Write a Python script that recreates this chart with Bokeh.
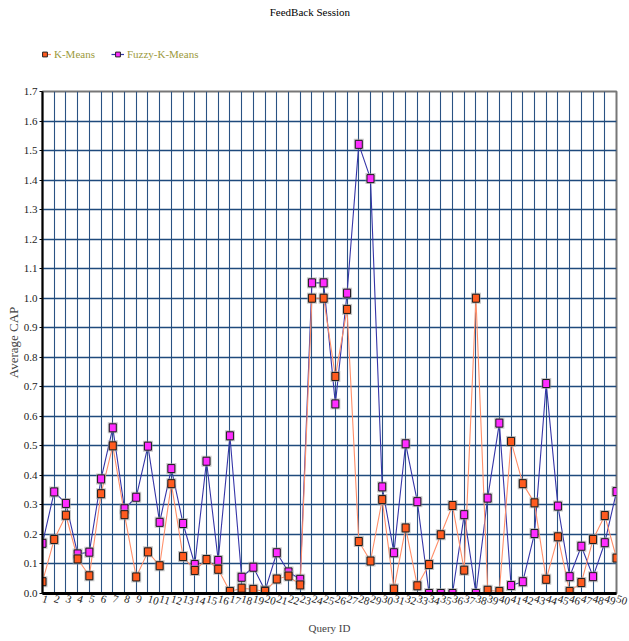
from bokeh.plotting import figure
from bokeh.layouts import column
from bokeh.models import Range1d, FixedTicker, Legend, LegendItem, CustomJSTickFormatter
from bokeh.core.properties import value
from bokeh.embed import file_html
from bokeh.resources import INLINE

query_ids = list(range(1, 51))
kmeans = [0.04, 0.183, 0.265, 0.117, 0.06, 0.338, 0.50, 0.267, 0.056, 0.141,
          0.094, 0.372, 0.125, 0.078, 0.115, 0.082, 0.007, 0.018, 0.014, 0.007,
          0.049, 0.059, 0.029, 1.0, 1.0, 0.735, 0.962, 0.176, 0.11, 0.318,
          0.015, 0.222, 0.026, 0.098, 0.199, 0.298, 0.079, 1.0, 0.011, 0.007,
          0.515, 0.372, 0.307, 0.048, 0.192, 0.007, 0.037, 0.183, 0.264, 0.12]
fuzzy = [0.17, 0.344, 0.305, 0.134, 0.14, 0.388, 0.561, 0.287, 0.326, 0.499,
         0.241, 0.423, 0.237, 0.098, 0.448, 0.112, 0.534, 0.055, 0.089, 0.01,
         0.138, 0.073, 0.048, 1.052, 1.052, 0.642, 1.017, 1.521, 1.405, 0.361,
         0.138, 0.507, 0.311, 0.0, 0.0, 0.0, 0.267, 0.0, 0.323, 0.577,
         0.027, 0.04, 0.203, 0.711, 0.296, 0.057, 0.16, 0.057, 0.172, 0.345]
y_ticks = [round(i * 0.1, 1) for i in range(18)]
title_text = "FeedBack Session"
series_names = ["K-Means", "Fuzzy-K-Means"]

FONT = "Liberation Serif"
K_LINE, K_FILL = "#ff8f6a", "#ff5b1f"
F_LINE, F_FILL = "#3535a8", "#ff2dff"
W = 629
TOP_H = 80
MAIN_H = 641 - TOP_H

# ---------- header (title + legend) ----------
head = figure(width=W, height=TOP_H, output_backend="svg", toolbar_location=None,
              x_range=Range1d(0, W), y_range=Range1d(TOP_H, 0),
              x_axis_location=None, y_axis_location=None,
              min_border=0, outline_line_color=None)
head.grid.visible = False
head.text(x=[293], y=[11], text=[title_text], text_font=value(FONT),
          text_font_size="11px", text_align="center", text_baseline="middle",
          text_color="#000000")
off = [-100, -90]
hk_l = head.line(off, off, line_color=K_LINE, line_width=1.2)
hk_m = head.scatter(off, off, marker="square", size=8, fill_color=K_FILL,
                    line_color="#222222")
hf_l = head.line(off, off, line_color=F_LINE, line_width=1.2)
hf_m = head.scatter(off, off, marker="square", size=8, fill_color=F_FILL,
                    line_color="#222222")
legend = Legend(items=[LegendItem(label=series_names[0], renderers=[hk_l, hk_m]),
                       LegendItem(label=series_names[1], renderers=[hf_l, hf_m])],
                orientation="horizontal", location=(-4, 20),
                label_text_font=FONT, label_text_font_size="11px",
                label_text_color="#9c9a3c", border_line_color=None,
                background_fill_alpha=0, glyph_width=13, glyph_height=12,
                spacing=16, label_standoff=3, padding=4, margin=0)
head.add_layout(legend, "center")

# ---------- main chart ----------
p = figure(width=W, height=MAIN_H, output_backend="svg", toolbar_location=None,
           x_range=Range1d(1, 50), y_range=Range1d(0, 1.7),
           min_border_left=42, min_border_right=13, min_border_bottom=48,
           min_border_top=91 - TOP_H)

p.xgrid.ticker = FixedTicker(ticks=query_ids)
p.ygrid.ticker = FixedTicker(ticks=y_ticks)
p.xgrid.grid_line_color = "#2a5283"
p.xgrid.grid_line_width = 1.1
p.ygrid.grid_line_color = "#1f4a7c"
p.ygrid.grid_line_width = 1.6

p.outline_line_color = "#777777"
p.outline_line_width = 2

p.xaxis.ticker = FixedTicker(ticks=query_ids)
p.yaxis.ticker = FixedTicker(ticks=y_ticks)
p.yaxis.formatter = CustomJSTickFormatter(code="return tick.toFixed(1);")
for ax in (p.xaxis[0], p.yaxis[0]):
    ax.axis_line_color = "black"
    ax.major_label_text_font = FONT
    ax.major_label_text_font_size = "11px"
    ax.major_label_text_color = "#222222"
    ax.axis_label_text_font = FONT
    ax.axis_label_text_font_style = "normal"
    ax.minor_tick_line_color = None
    ax.major_tick_in = 0
    ax.major_tick_out = 3
    ax.major_label_standoff = 2
p.xaxis.axis_label_text_font_size = "11px"
p.yaxis.axis_label_text_font_size = "13px"
p.xaxis.axis_line_width = 3
p.yaxis.axis_line_width = 2
p.xaxis.major_label_orientation = -0.3
p.xaxis.axis_label = "Query ID"
p.yaxis.axis_label = "Average CAP"
p.xaxis.major_tick_line_color = None
p.yaxis.axis_label_standoff = 0
p.xaxis.axis_label_standoff = 11

p.line(query_ids, fuzzy, line_color=F_LINE, line_width=1.1)
p.line(query_ids, kmeans, line_color=K_LINE, line_width=1.1)
for ys, fill in ((fuzzy, F_FILL), (kmeans, K_FILL)):
    p.rect(query_ids, ys, width=10, height=11, width_units="screen",
           height_units="screen", fill_color="#9a9a9a", fill_alpha=0.55,
           line_color=None)
    p.rect(query_ids, ys, width=7, height=8, width_units="screen",
           height_units="screen", fill_color=fill, line_color="#1a1a1a",
           line_width=1)

open("out.html", "w").write(file_html(column(head, p, spacing=0), INLINE))
